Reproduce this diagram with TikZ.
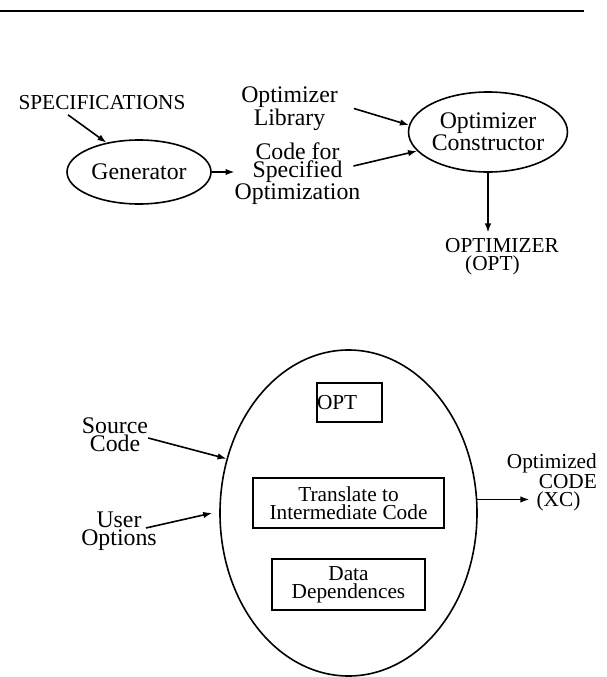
\documentclass[tikz,border=0pt]{standalone}
\usepackage{fontspec}
\setmainfont{Liberation Serif}
\usetikzlibrary{arrows.meta,shapes.geometric}
\begin{document}
\begin{tikzpicture}[x=1pt,y=-1pt,
  big/.style={font=\fontsize{23.8}{18}\selectfont},
  small/.style={font=\fontsize{21.3}{18}\selectfont},
  lbl/.style={inner sep=0pt, align=center},
  oval/.style={draw, ellipse, line width=1.6pt, inner sep=0pt, align=center},
  boxed/.style={draw, rectangle, line width=1.3pt, inner sep=0pt, align=center},
  arr/.style={line width=1.6pt, -{Latex[length=9pt,width=6.5pt]}}]
\useasboundingbox (0,0) rectangle (607,677);

% rule across the top
\draw[line width=2pt] (0,11) -- (584,11);

% --- building the optimizer ---
\node[lbl,small] (spec) at (102,102.5) {SPECIFICATIONS};
\node[oval,big,minimum width=144pt,minimum height=64pt] (gen) at (139,172) {Generator};
\node[lbl,big] (lib) at (289.5,108.5) {Optimizer\\Library};
\node[lbl,big] (code) at (297.5,174) {Code for\\Specified\\Optimization};
\node[oval,big,minimum width=157pt,minimum height=80pt] (cons) at (488,132) {Optimizer\\Constructor};
\node[lbl,small,align=left,anchor=west] (optimizer) at (445,257) {OPTIMIZER\\\hspace*{20pt}(OPT)};

\draw[arr] ([xshift=-34pt,yshift=-5pt]spec.south) -- (gen.138);
\draw[arr] (gen.east) -- (gen.east -| code.west);
\draw[arr] ([xshift=16pt]lib.east) -- (cons.175);
\draw[arr] ([xshift=-7pt,yshift=8pt]code.east) -- (cons.195);
\draw[arr] (cons.south) -- ([yshift=6pt]cons.south |- optimizer.north);

% --- using the optimizer ---
\node[oval,minimum width=257pt,minimum height=326pt] (proc) at (348.5,513) {};
\node[boxed,small,text width=65pt,minimum height=39pt,align=left] (optbox) at (349.5,402.5) {OPT};
\node[boxed,small,minimum width=191pt,minimum height=50pt] (trans) at (348.5,503) {Translate to\\Intermediate Code};
\node[boxed,small,minimum width=153pt,minimum height=51pt] (dep) at (348.5,584.5) {Data\\Dependences};

\node[lbl,big] (src) at (115,435) {Source\\Code};
\node[lbl,big] (usr) at (119,531) {User\\Options};
\node[lbl,align=right,anchor=north east,font=\fontsize{21.3}{15}\selectfont] (res) at (597,454) {Optimized\\CODE};
\node[lbl,small] (xc) at (558.5,501.5) {(XC)};

\draw[arr] ([yshift=-3pt]src.east) -- (proc.156);
\draw[arr] ([xshift=-11pt,yshift=3pt]usr.east) -- ([xshift=-7pt]proc.west);
\draw[arr] (proc.6) -- ([xshift=-7pt]proc.6 -| xc.west);
\end{tikzpicture}
\end{document}
